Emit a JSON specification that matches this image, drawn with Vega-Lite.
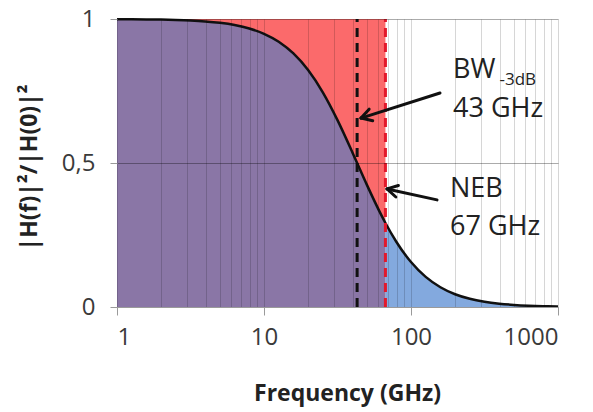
{
  "$schema": "https://vega.github.io/schema/vega-lite/v6.json",
  "width": 441,
  "height": 288,
  "autosize": {"type": "none"},
  "padding": {"left": 117, "top": 19, "right": 35, "bottom": 105},
  "background": "white",
  "config": {
    "font": "Open Sans",
    "view": {"stroke": null},
    "axis": {"labelFont": "Open Sans", "titleFont": "Open Sans"}
  },
  "datasets": {
    "curve": [
      {"f": 1, "h": 0.99946}, {"f": 1.259, "h": 0.99914}, {"f": 1.585, "h": 0.99864}, {"f": 1.995, "h": 0.99785},
      {"f": 2.512, "h": 0.9966}, {"f": 3.162, "h": 0.99462}, {"f": 3.981, "h": 0.9915}, {"f": 5.012, "h": 0.9866},
      {"f": 6.31, "h": 0.97892}, {"f": 7.943, "h": 0.967}, {"f": 10, "h": 0.94869}, {"f": 12.59, "h": 0.92105},
      {"f": 15.85, "h": 0.88039}, {"f": 19.95, "h": 0.82283}, {"f": 25.12, "h": 0.74557}, {"f": 31.62, "h": 0.649},
      {"f": 39.81, "h": 0.53846}, {"f": 43, "h": 0.5}, {"f": 50.12, "h": 0.42398}, {"f": 63.1, "h": 0.31714},
      {"f": 67, "h": 0.29173}, {"f": 79.43, "h": 0.22662}, {"f": 100, "h": 0.15605}, {"f": 125.9, "h": 0.10448},
      {"f": 158.5, "h": 0.06856}, {"f": 199.5, "h": 0.04438}, {"f": 251.2, "h": 0.02847}, {"f": 316.2, "h": 0.01815},
      {"f": 398.1, "h": 0.01153}, {"f": 501.2, "h": 0.00731}, {"f": 631, "h": 0.00462}, {"f": 794.3, "h": 0.00292},
      {"f": 1000, "h": 0.00185}
    ],
    "band": [{"f0": 1, "f1": 67, "y0": 0, "y1": 1}],
    "bw": [{"f": 43, "y0": 0, "y1": 1}],
    "neb": [{"f": 67, "y0": 0, "y1": 1}],
    "arrows": [
      {"xa": 157.5, "ya": 0.743, "xb": 45.7, "yb": 0.656},
      {"xa": 54.9, "ya": 0.647, "xb": 45.7, "yb": 0.656},
      {"xa": 51.9, "ya": 0.687, "xb": 45.7, "yb": 0.656},
      {"xa": 150.3, "ya": 0.372, "xb": 68.7, "yb": 0.41},
      {"xa": 78.9, "ya": 0.382, "xb": 68.7, "yb": 0.41},
      {"xa": 82.1, "ya": 0.422, "xb": 68.7, "yb": 0.41}
    ],
    "labels": [
      {"x": 193.1, "y": 0.795, "text": "BW"},
      {"x": 193.1, "y": 0.66, "text": "43 GHz"},
      {"x": 184.2, "y": 0.382, "text": "NEB"},
      {"x": 184.2, "y": 0.25, "text": "67 GHz"}
    ],
    "sub": [{"x": 400, "y": 0.771, "text": "-3dB"}]
  },
  "resolve": {"scale": {"x": "shared", "y": "shared"}, "axis": {"x": "independent", "y": "independent"}},
  "layer": [
    {
      "data": {"name": "band"},
      "mark": {"type": "rect", "color": "#FB6A6B"},
      "encoding": {
        "x": {"field": "f0", "type": "quantitative", "scale": {"type": "log", "domain": [1, 1000]},
          "axis": {"orient": "top", "values": [1,2,3,4,5,6,7,8,9,10,20,30,40,50,60,70,80,90,100,200,300,400,500,600,700,800,900,1000],
            "labels": false, "ticks": false, "domain": false, "title": null, "grid": true, "gridColor": "#000000", "gridOpacity": 0.16, "gridWidth": 1, "zindex": 1}},
        "x2": {"field": "f1"},
        "y": {"field": "y0", "type": "quantitative", "scale": {"domain": [0, 1]},
          "axis": {"values": [0, 0.5, 1], "format": "~g", "labelExpr": "replace(datum.label, '.', ',')", "grid": true, "gridColor": "#000000", "gridOpacity": 0.33,
            "domain": false, "ticks": true, "tickSize": 7, "tickColor": "#9A9A9A", "labelFontSize": 24, "labelColor": "#3A3A3A", "labelPadding": 15,
            "title": "|H(f)|²/|H(0)|²", "titleFontSize": 23, "titleFontWeight": "bold", "titleColor": "#222222",
            "titleX": -88, "titleY": 148, "titleAngle": -90, "titleAlign": "center", "titleBaseline": "middle", "zindex": 1}},
        "y2": {"field": "y1"}
      }
    },
    {
      "data": {"name": "curve"},
      "transform": [{"filter": "datum.f <= 67"}],
      "mark": {"type": "area", "color": "#8A76A6", "interpolate": "monotone"},
      "encoding": {
        "x": {"field": "f", "type": "quantitative",
          "axis": {"orient": "bottom", "values": [1, 10, 100, 1000], "format": "d", "grid": false, "domain": true, "domainColor": "#9A9A9A",
            "ticks": true, "tickSize": 8, "tickColor": "#9A9A9A", "labelFontSize": 24, "labelColor": "#3A3A3A", "labelPadding": 10,
            "title": "Frequency (GHz)", "titleFontSize": 23, "titleFontWeight": "bold", "titleColor": "#222222",
            "titleX": 230, "titleY": 86, "titleBaseline": "middle", "titleAlign": "center", "zindex": 1}},
        "y": {"field": "h", "type": "quantitative", "axis": null}
      }
    },
    {
      "data": {"name": "curve"},
      "transform": [{"filter": "datum.f >= 67"}],
      "mark": {"type": "area", "color": "#83A9DE", "interpolate": "monotone"},
      "encoding": {
        "x": {"field": "f", "type": "quantitative", "axis": null},
        "y": {"field": "h", "type": "quantitative", "axis": null}
      }
    },
    {
      "data": {"name": "curve"},
      "mark": {"type": "line", "color": "#111111", "strokeWidth": 2.5, "interpolate": "monotone"},
      "encoding": {
        "x": {"field": "f", "type": "quantitative", "axis": null},
        "y": {"field": "h", "type": "quantitative", "axis": null}
      }
    },
    {
      "data": {"name": "bw"},
      "mark": {"type": "rule", "color": "#111111", "strokeWidth": 3, "strokeDash": [9, 6]},
      "encoding": {
        "x": {"field": "f", "type": "quantitative", "axis": null},
        "y": {"field": "y0", "type": "quantitative", "axis": null},
        "y2": {"field": "y1"}
      }
    },
    {
      "data": {"name": "neb"},
      "mark": {"type": "rule", "color": "#E3192B", "strokeWidth": 3, "strokeDash": [9, 6]},
      "encoding": {
        "x": {"field": "f", "type": "quantitative", "axis": null},
        "y": {"field": "y0", "type": "quantitative", "axis": null},
        "y2": {"field": "y1"}
      }
    },
    {
      "data": {"name": "arrows"},
      "mark": {"type": "rule", "color": "#111111", "strokeWidth": 3, "strokeCap": "round"},
      "encoding": {
        "x": {"field": "xa", "type": "quantitative", "axis": null},
        "x2": {"field": "xb"},
        "y": {"field": "ya", "type": "quantitative", "axis": null},
        "y2": {"field": "yb"}
      }
    },
    {
      "data": {"name": "labels"},
      "mark": {"type": "text", "align": "left", "baseline": "alphabetic", "fontSize": 27, "color": "#222222", "font": "Open Sans"},
      "encoding": {
        "x": {"field": "x", "type": "quantitative", "axis": null},
        "y": {"field": "y", "type": "quantitative", "axis": null},
        "text": {"field": "text"}
      }
    },
    {
      "data": {"name": "sub"},
      "mark": {"type": "text", "align": "left", "baseline": "alphabetic", "fontSize": 17, "color": "#222222", "font": "Open Sans"},
      "encoding": {
        "x": {"field": "x", "type": "quantitative", "axis": null},
        "y": {"field": "y", "type": "quantitative", "axis": null},
        "text": {"field": "text"}
      }
    }
  ]
}
